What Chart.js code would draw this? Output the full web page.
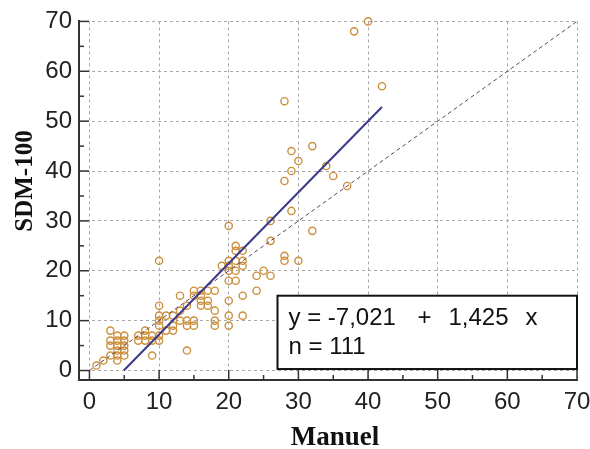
<!DOCTYPE html>
<html>
<head>
<meta charset="utf-8">
<script src="https://cdn.jsdelivr.net/npm/chart.js@4/dist/chart.umd.min.js"></script>
<style>
html, body { margin: 0; padding: 0; background: #fff; }
</style>
</head>
<body>
<canvas id="grafico" width="590" height="449"></canvas>
<script>
// Datos
var manuel = [1, 2, 3, 3, 3, 3, 4, 4, 4, 4, 4, 4, 5, 5, 5, 5, 5, 7, 7, 8, 8, 8, 9, 9, 9,
    10, 10, 10, 10, 10, 10, 10, 11, 11, 12, 12, 12, 13, 13, 13, 14, 14, 14, 14,
    15, 15, 15, 15, 16, 16, 16, 16, 17, 17, 17, 18, 18, 18, 18, 19,
    20, 20, 20, 20, 20, 20, 20, 20, 21, 21, 21, 21, 21, 22, 22, 22, 22, 22,
    24, 24, 25, 26, 26, 26, 28, 28, 28, 28, 29, 29, 29, 30, 30, 32, 32, 34, 35, 37, 38, 40, 42];
var sdm = [1, 2, 8, 6, 5, 3, 7, 6, 5, 4, 3, 2, 7, 6, 5, 4, 3, 7, 6, 8, 7, 6, 7, 6, 3,
    7, 6, 9, 10, 11, 13, 22, 8, 11, 8, 9, 11, 10, 12, 15, 4, 9, 10, 13,
    9, 10, 15, 16, 13, 14, 15, 16, 13, 14, 16, 9, 10, 12, 16, 21,
    9, 11, 14, 18, 20, 21, 22, 29, 18, 20, 22, 24, 25, 11, 15, 21, 22, 24,
    16, 19, 20, 19, 26, 30, 22, 23, 38, 54, 32, 40, 44, 22, 42, 28, 45, 41, 39, 37, 68, 70, 57];

// Recta de regresion y = -7,021 + 1,425 x
var regX = [4.93, 42];
var regY = [0, 52.83];
// Recta identidad
var idX = [0, 70];
var idY = [0, 70];

var tickVals = [0, 10, 20, 30, 40, 50, 60, 70];

function pares(xs, ys) {
    return xs.map(function (v, i) { return { x: v, y: ys[i] }; });
}

var fuenteTicks = { family: "'Liberation Sans', Arial, sans-serif", size: 24 };

var extras = {
    id: 'extras',
    afterDatasetsDraw: function (chart) {
        var ctx = chart.ctx, xs = chart.scales.x, ys = chart.scales.y, a = chart.chartArea;
        ctx.save();
        // cuadro con la ecuacion
        var bl = xs.getPixelForValue(27), br = xs.getPixelForValue(70);
        var bt = ys.getPixelForValue(15), bb = ys.getPixelForValue(0.3);
        ctx.fillStyle = '#fff';
        ctx.fillRect(bl, bt, br - bl, bb - bt);
        ctx.strokeStyle = '#111';
        ctx.lineWidth = 2;
        ctx.strokeRect(bl, bt, br - bl, bb - bt);
        ctx.fillStyle = '#111';
        ctx.font = "24px 'Liberation Sans', Arial, sans-serif";
        ctx.textBaseline = 'alphabetic';
        ctx.textAlign = 'left';
        ctx.fillText('y = -7,021', bl + 11, bt + 29);
        ctx.fillText('+', bl + 140, bt + 29);
        ctx.fillText('1,425', bl + 171, bt + 29);
        ctx.fillText('x', bl + 248, bt + 29);
        ctx.fillText('n = 111', bl + 11, bt + 58);

        // marcas hacia dentro
        ctx.strokeStyle = '#333';
        ctx.lineWidth = 1.5;
        for (var v = 0; v <= 70; v += 5) {
            var len = (v % 10 === 0) ? 10 : 5;
            var px = xs.getPixelForValue(v);
            ctx.beginPath(); ctx.moveTo(px, a.bottom); ctx.lineTo(px, a.bottom - len); ctx.stroke();
            var py = ys.getPixelForValue(v);
            ctx.beginPath(); ctx.moveTo(a.left, py); ctx.lineTo(a.left + len, py); ctx.stroke();
        }

        // titulos de ejes
        ctx.fillStyle = '#111';
        ctx.font = "bold 27px 'Liberation Serif', 'Times New Roman', serif";
        ctx.textAlign = 'center';
        ctx.fillText('Manuel', 335, 445);
        ctx.translate(32, 181);
        ctx.rotate(-Math.PI / 2);
        ctx.font = "bold 25px 'Liberation Serif', 'Times New Roman', serif";
        ctx.fillText('SDM-100', 0, 0);
        ctx.restore();
    }
};

var config = {
    type: 'scatter',
    data: {
        datasets: [{
            type: 'line',
            data: pares(regX, regY),
            borderColor: '#3b3a8a',
            borderWidth: 2,
            pointRadius: 0,
            fill: false,
            order: 1
        }, {
            type: 'line',
            data: pares(idX, idY),
            borderColor: '#5e4658',
            borderWidth: 1,
            borderDash: [4, 3],
            pointRadius: 0,
            fill: false,
            order: 2
        }, {
            data: pares(manuel, sdm),
            pointRadius: 3.6,
            pointBorderWidth: 1.4,
            pointBorderColor: 'rgb(204,144,60)',
            pointBackgroundColor: 'rgba(0,0,0,0)',
            clip: false,
            order: 3
        }]
    },
    options: {
        responsive: false,
        animation: false,
        layout: { padding: { top: 21, right: 1, left: 0, bottom: 0 } },
        plugins: { legend: { display: false }, tooltip: { enabled: false } },
        scales: {
            x: {
                type: 'linear',
                min: -1.5,
                max: 70,
                afterFit: function (s) { s.height = 69; s.paddingRight = 13; },
                afterBuildTicks: function (s) { s.ticks = tickVals.map(function (v) { return { value: v }; }); },
                ticks: { padding: 8, color: '#222', font: fuenteTicks },
                grid: { color: '#a8a8a8', lineWidth: 1, drawTicks: false },
                border: { display: true, color: '#333', width: 2, dash: [3, 3] }
            },
            y: {
                type: 'linear',
                min: -1.9,
                max: 70,
                afterFit: function (s) { s.width = 79; },
                afterBuildTicks: function (s) { s.ticks = tickVals.map(function (v) { return { value: v }; }); },
                ticks: { padding: 7, color: '#222', font: fuenteTicks },
                grid: { color: '#a8a8a8', lineWidth: 1, drawTicks: false },
                border: { display: true, color: '#333', width: 2, dash: [3, 3] }
            }
        }
    },
    plugins: [extras]
};

var grafico = new Chart(document.getElementById('grafico'), config);
</script>
</body>
</html>
